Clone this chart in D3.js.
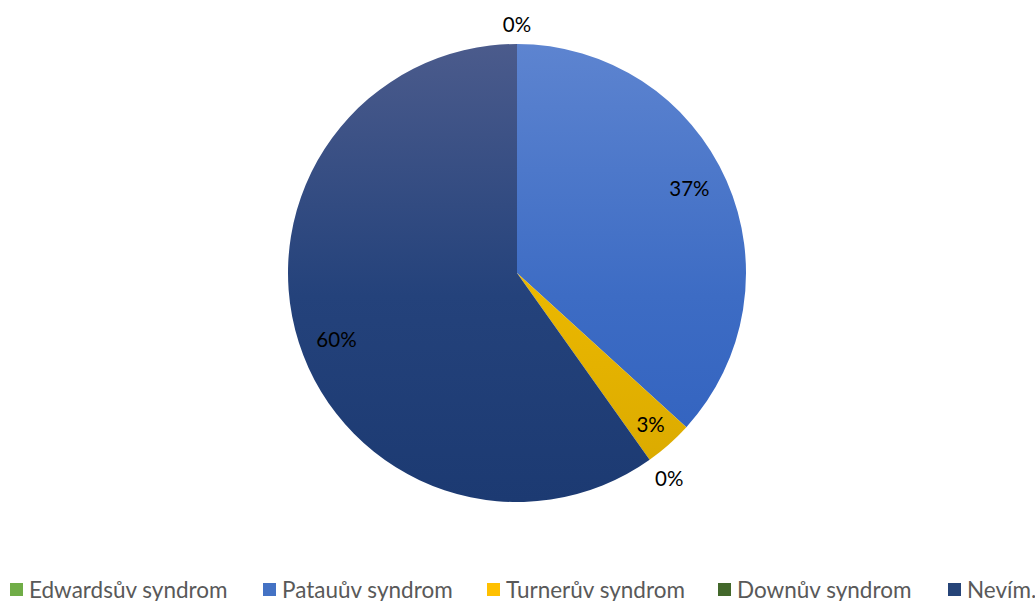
<!DOCTYPE html>
<html>
<head>
<meta charset="utf-8">
<script src="https://cdn.jsdelivr.net/npm/d3@7"></script>
<style>
  html, body { margin: 0; padding: 0; background: #fff; }
  svg { display: block; font-family: Lato, "Open Sans", sans-serif; }
</style>
</head>
<body>
<svg id="chart" width="1035" height="601"></svg>
<script>
// Responses: which syndrome is meant
const categories = ["Edwardsův syndrom", "Patauův syndrom", "Turnerův syndrom", "Downův syndrom", "Nevím."];
const counts = [0, 43, 4, 0, 70];
const colorsTop = ["#7bb752", "#5d84d0", "#f7c600", "#4d7532", "#4b5b8c"];
const colorsMid = ["#6ea846", "#3d6cc4", "#eab700", "#436a2b", "#24427b"];
const colorsBottom = ["#64a03a", "#2f60be", "#d8a800", "#3b5e24", "#1c3a72"];
const legendSwatch = ["#70ad47", "#4472c4", "#ffc000", "#43682b", "#264478"];

const svg = d3.select("#chart");
const cx = 517, cy = 273, r = 229;

const total = d3.sum(counts);
const data = categories.map((name, i) => ({ name, value: counts[i], i }));

const pie = d3.pie().value(d => d.value).sort(null);
const arcs = pie(data);
const arc = d3.arc().innerRadius(0).outerRadius(r);

// vertical gradients spanning the pie (group coordinates)
const defs = svg.append("defs");
data.forEach((d, i) => {
  const grad = defs.append("linearGradient")
    .attr("id", "grad" + i)
    .attr("gradientUnits", "userSpaceOnUse")
    .attr("x1", 0).attr("y1", -r).attr("x2", 0).attr("y2", r);
  grad.append("stop").attr("offset", "0%").attr("stop-color", colorsTop[i]);
  grad.append("stop").attr("offset", "55%").attr("stop-color", colorsMid[i]);
  grad.append("stop").attr("offset", "100%").attr("stop-color", colorsBottom[i]);
});

const g = svg.append("g").attr("transform", `translate(${cx},${cy})`);

g.selectAll("path.slice")
  .data(arcs)
  .join("path")
  .attr("class", "slice")
  .attr("d", arc)
  .attr("fill", d => `url(#grad${d.data.i})`);

// percentage labels
const fmt = v => Math.round(v / total * 100) + "%";
const nudge = -2.5 * Math.PI / 180;
g.selectAll("text.lbl")
  .data(arcs)
  .join("text")
  .attr("class", "lbl")
  .attr("text-anchor", "middle")
  .attr("dominant-baseline", "central")
  .attr("font-size", 20.5)
  .attr("fill", "#000")
  .attr("transform", d => {
    let mid = (d.startAngle + d.endAngle) / 2;
    let rr;
    if (d.value === 0) {
      if (d.startAngle > 0) { rr = 255; mid += nudge / 2; } else { rr = 249; }
    }
    else if (d.value / total < 0.05) { rr = 0.88 * r; }
    else { rr = 0.84 * r; mid += nudge; }
    return `translate(${Math.sin(mid) * rr},${-Math.cos(mid) * rr})`;
  })
  .text(d => fmt(d.value));

// legend
const legendX = [10, 263, 487, 718, 948];
const legend = svg.append("g");
data.forEach((d, i) => {
  legend.append("rect")
    .attr("x", legendX[i]).attr("y", 583)
    .attr("width", 13).attr("height", 13)
    .attr("fill", legendSwatch[i]);
  legend.append("text")
    .attr("x", legendX[i] + 19).attr("y", 598)
    .attr("font-size", 22.5)
    .attr("fill", "#595959")
    .text(d.name);
});
</script>
</body>
</html>
